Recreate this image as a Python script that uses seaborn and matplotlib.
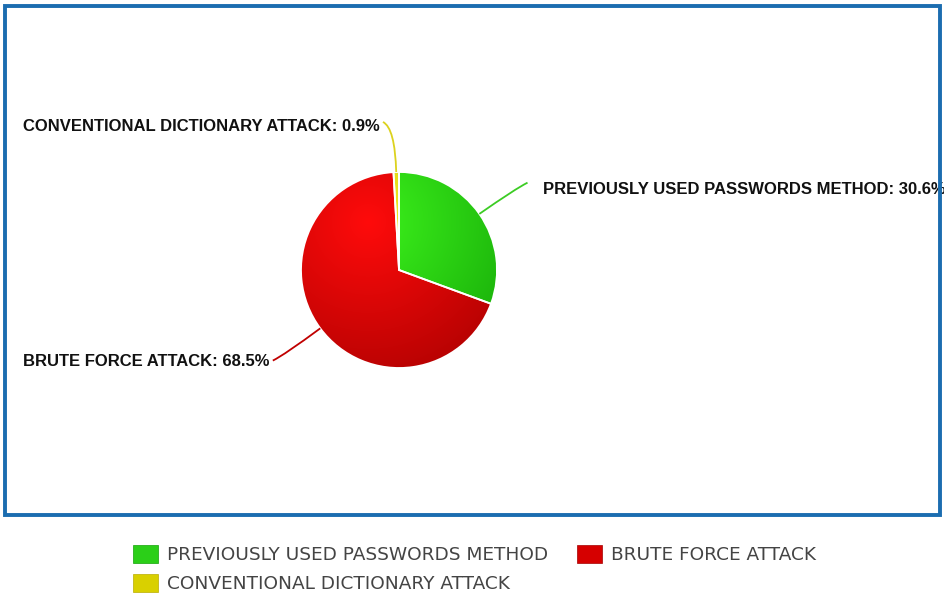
import numpy as np
import matplotlib
matplotlib.use("Agg")
import matplotlib.pyplot as plt
from matplotlib.patches import Rectangle, Patch, PathPatch
from matplotlib.path import Path
from matplotlib.colors import to_rgb
import seaborn as sns

# ---- data ----
categories = ["PREVIOUSLY USED PASSWORDS METHOD", "BRUTE FORCE ATTACK",
              "CONVENTIONAL DICTIONARY ATTACK"]
shares = [30.6, 68.5, 0.9]
legend_order = [0, 1, 2]

# ---- style ----
light_cols = ["#3df21c", "#ff0b0b", "#f6ef24"]
dark_cols = ["#12a306", "#a50000", "#b9ad00"]
legend_cols = ["#2bcf18", "#d60000", "#d9d000"]
line_cols = ["#3ccc24", "#c00000", "#dcd21e"]
label_dy = [-7, -1, -5]   # vertical nudge of label text, in pixels

sns.set_theme(style="white")
plt.rcParams['font.family'] = ['DejaVu Sans']

W, H = 945, 594
fig = plt.figure(figsize=(W / 100, H / 100), dpi=100)
ax = fig.add_axes([0, 0, 1, 1])

cx, cy, R = 399, H - 270, 98
wedges, _ = ax.pie(shares, startangle=90, counterclock=False, center=(cx, cy),
                   radius=R, frame=True,
                   wedgeprops=dict(edgecolor="white", linewidth=1.3))
ax.set_xlim(0, W)
ax.set_ylim(0, H)
ax.set_aspect('equal')
ax.axis('off')

# radial gradient fill clipped to each wedge
hx, hy = 368, H - 222
n = 300
xs = np.linspace(cx - R, cx + R, n)
ys = np.linspace(cy - R, cy + R, n)
X, Y = np.meshgrid(xs, ys)
T = np.clip(np.hypot(X - hx, Y - hy) / 200.0, 0, 1)[..., None]
for w, lc, dc in zip(wedges, light_cols, dark_cols):
    l = np.array(to_rgb(lc)); d = np.array(to_rgb(dc))
    img = l * (1 - T) + d * T
    im = ax.imshow(img, extent=(cx - R, cx + R, cy - R, cy + R), origin='lower',
                   zorder=1, interpolation='bilinear')
    im.set_clip_path(w)
    w.set_facecolor('none')
    w.set_zorder(2)
ax.set_xlim(0, W)
ax.set_ylim(0, H)

# leader lines and labels
for i, w in enumerate(wedges):
    ang = np.deg2rad((w.theta1 + w.theta2) / 2)
    ca, sa = np.cos(ang), np.sin(ang)
    p0 = (cx + R * ca, cy + R * sa)
    pc = (cx + 1.45 * R * ca, cy + 1.45 * R * sa)
    sx = 1 if ca >= 0 else -1
    sy = 1 if sa >= 0 else -1
    p1 = (pc[0] + sx * 12, pc[1] + sy * 6)
    path = Path([p0, pc, p1], [Path.MOVETO, Path.CURVE3, Path.CURVE3])
    ax.add_patch(PathPatch(path, fill=False, edgecolor=line_cols[i], lw=1.3, zorder=3))
    label = f"{categories[i]}: {shares[i]}%"
    if sx > 0:
        ax.text(p1[0] + 15, p1[1] + label_dy[i], label, ha='left', va='center',
                fontsize=12, fontweight='bold', family='Liberation Sans', color='#111111')
    else:
        ax.text(p1[0] - 3, p1[1] + label_dy[i], label, ha='right', va='center',
                fontsize=12, fontweight='bold', family='Liberation Sans', color='#111111')

# border
fig.patches.append(Rectangle((5 / W, 1 - 515 / H), 935 / W, 509 / H, fill=False,
                             edgecolor='#1b6db0', linewidth=2.8,
                             transform=fig.transFigure, figure=fig))

# legend (row-major: green, red / yellow)
handles = [Patch(facecolor=legend_cols[i], edgecolor=dark_cols[i], linewidth=0.5)
           for i in legend_order]
labels = [categories[i] for i in legend_order]
order = [0, 2, 1]
fig.legend([handles[k] for k in order], [labels[k] for k in order], ncol=2,
           loc='upper left', bbox_to_anchor=(133 / W, 1 - 545 / H),
           frameon=False, fontsize=13.3, labelcolor='#444444',
           handlelength=1.35, handleheight=1.15, handletextpad=0.5,
           labelspacing=0.5, columnspacing=1.55, borderpad=0, borderaxespad=0)

fig.savefig("out.png", dpi=100)
